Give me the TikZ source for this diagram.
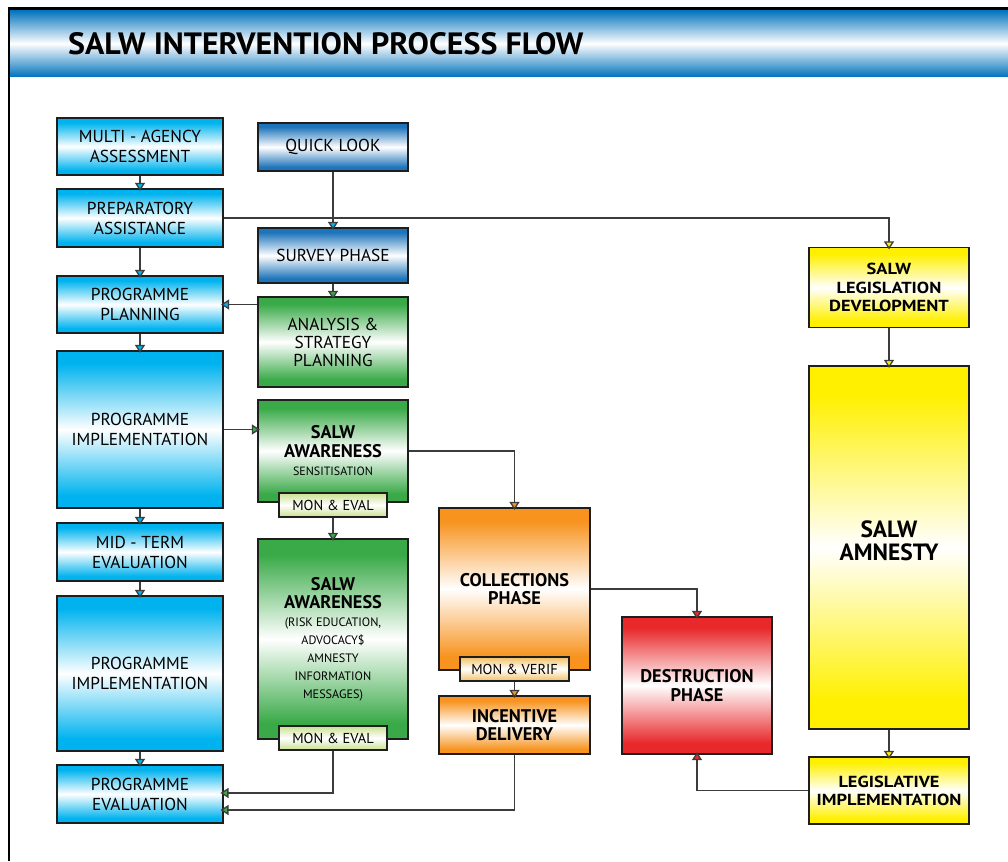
\documentclass[tikz,border=0pt]{standalone}
\usepackage{fontspec}
\setmainfont{PT Sans}
\newfontfamily\widefont[FakeStretch=1.15]{PT Sans}
\usetikzlibrary{arrows.meta,calc}
\definecolor{cyanC}{HTML}{00B3EE}
\definecolor{blueC}{HTML}{1E74BA}
\definecolor{greenC}{HTML}{3AAA48}
\definecolor{orangeC}{HTML}{F7931E}
\definecolor{redC}{HTML}{E8282B}
\definecolor{yellowC}{HTML}{FFF000}
\definecolor{limeC}{HTML}{C8E08E}
\definecolor{peachC}{HTML}{F2C064}
\definecolor{hdrC}{HTML}{0071BC}
\definecolor{lineC}{HTML}{3C3C3C}
\definecolor{edgeC}{HTML}{1E1E1E}
\newcommand\mkvshade[2]{\pgfdeclareverticalshading{#1}{100bp}{color(0bp)=(#2); color(29bp)=(#2); color(50bp)=(white); color(71bp)=(#2); color(100bp)=(#2)}}
\newcommand\mklinshade[2]{\pgfdeclareverticalshading{#1}{100bp}{color(0bp)=(#2); color(25bp)=(#2); color(50bp)=(white); color(75bp)=(#2); color(100bp)=(#2)}}
\mkvshade{cyanS}{cyanC}
\mkvshade{blueS}{blueC}
\mkvshade{greenS}{greenC}
\mkvshade{orangeS}{orangeC}
\mkvshade{redS}{redC}
\mkvshade{yellowS}{yellowC}
\mklinshade{limeS}{limeC}
\mklinshade{peachS}{peachC}
\mklinshade{hdrS}{hdrC}
\newcommand\smalltxt{\mdseries\fontsize{12.2}{18}\selectfont}
\tikzset{
  box/.style={draw=edgeC, line width=1.2pt, inner sep=2pt, align=center, text=black, shade, shading=#1, font=\fontsize{17.3}{20}\selectfont},
  boldbox/.style={box=#1, font=\fontsize{18.3}{18.5}\selectfont\bfseries},
  tag/.style={box=#1, minimum height=24pt, font=\fontsize{14.4}{16}\selectfont},
  flow/.style={draw=lineC, line width=1.3pt, shorten >=-2.5pt, -{Triangle[length=8pt,width=10pt,fill=#1]}},
}
\begin{document}
\begin{tikzpicture}[x=1pt,y=-1pt]
\useasboundingbox (0,0) rectangle (1008,861);
\fill[white] (0,0) rectangle (1008,861);
% header
\shade[shading=hdrS] (10,10) rectangle (1008,77);
\draw[line width=2.5pt] (9,861) -- (9,8.5) -- (1008,8.5);
\node[anchor=base west, inner sep=0pt] (title) at (68,55) {\resizebox{515pt}{22pt}{\bfseries SALW INTERVENTION PROCESS FLOW}};
% left column
\node[box=cyanS, minimum width=166pt, minimum height=57pt] (ma) at (140,146.5) {MULTI - AGENCY\\ASSESSMENT};
\node[box=cyanS, minimum width=166pt, minimum height=58pt] (pa) at (140,218) {PREPARATORY\\ASSISTANCE};
\node[box=cyanS, minimum width=166pt, minimum height=57pt] (pp) at (140,304.5) {PROGRAMME\\PLANNING};
\node[box=cyanS, minimum width=166pt, minimum height=157pt] (pi1) at (140,429.5) {PROGRAMME\\IMPLEMENTATION};
\node[box=cyanS, minimum width=166pt, minimum height=58pt] (mt) at (140,552) {MID - TERM\\EVALUATION};
\node[box=cyanS, minimum width=166pt, minimum height=155pt] (pi2) at (140,673.5) {PROGRAMME\\IMPLEMENTATION};
\node[box=cyanS, minimum width=166pt, minimum height=58pt] (pe) at (140,794) {PROGRAMME\\EVALUATION};
% second column
\node[box=blueS, minimum width=150pt, minimum height=48pt] (ql) at (333,147) {QUICK LOOK};
\node[box=blueS, minimum width=150pt, minimum height=55pt] (sp) at (333,255.5) {SURVEY PHASE};
\node[box=greenS, minimum width=150pt, minimum height=90pt, font=\fontsize{17.3}{18}\selectfont] (as) at (333,342) {ANALYSIS \&\\STRATEGY\\PLANNING};
\node[boldbox=greenS, minimum width=150pt, minimum height=102pt] (aw1) at (333,451) {SALW\\AWARENESS\\{\mdseries\fontsize{12}{14}\selectfont SENSITISATION}};
\node[boldbox=greenS, minimum width=150pt, minimum height=200pt, font=\fontsize{18.3}{18}\selectfont\bfseries] (aw2) at (333,639) {SALW\\AWARENESS\\{\smalltxt (RISK EDUCATION,}\\{\smalltxt ADVOCACY\$}\\{\smalltxt AMNESTY}\\{\smalltxt INFORMATION}\\{\smalltxt MESSAGES)}};
\node[tag=limeS, minimum width=108pt] (me1) at (333,505) {MON \& EVAL};
\node[tag=limeS, minimum width=108pt] (me2) at (333,738) {MON \& EVAL};
% third column
\node[boldbox=orangeS, minimum width=151pt, minimum height=162pt] (co) at (514.5,589) {COLLECTIONS\\PHASE};
\node[tag=peachS, minimum width=109pt] (mv) at (514.5,669) {MON \& VERIF};
\node[boldbox=orangeS, minimum width=151pt, minimum height=58pt] (inc) at (514.5,725) {INCENTIVE\\DELIVERY};
\node[boldbox=redS, minimum width=150pt, minimum height=137pt] (de) at (697,685.5) {DESTRUCTION\\PHASE};
% right column
\node[boldbox=yellowS, minimum width=160pt, minimum height=80pt, font=\widefont\fontsize{16}{18.5}\selectfont\bfseries, text depth=-9pt] (ld) at (889,287.5) {SALW\\LEGISLATION\\DEVELOPMENT};
\node[boldbox=yellowS, minimum width=160pt, minimum height=363pt, font=\fontsize{23.5}{22.5}\selectfont\bfseries, text depth=14pt] (am) at (889,547.5) {SALW\\AMNESTY};
\node[boldbox=yellowS, minimum width=160pt, minimum height=67pt, font=\widefont\fontsize{16}{18}\selectfont\bfseries] (li) at (889,790.5) {LEGISLATIVE\\IMPLEMENTATION};
% coordinates
\coordinate (pe1) at (223,793);
\coordinate (pe2) at (223,810);
% connectors
\draw[flow=cyanC] (ma) -- (pa);
\draw[flow=cyanC] (pa) -- (pp);
\draw[flow=cyanC] (pp) -- (pi1);
\draw[flow=cyanC] (pi1) -- (mt);
\draw[flow=cyanC] (mt) -- (pi2);
\draw[flow=cyanC] (pi2) -- (pe);
\draw[flow=cyanC] (ql) -- (sp);
\draw[flow=yellowC] (pa.east) -| (ld.north);
\draw[flow=greenC] (sp) -- (as);
\draw[flow=cyanC] (as.west |- pp.east) -- (pp.east);
\draw[flow=greenC] (pi1.east) -- (aw1.west |- pi1.east);
\draw[flow=orangeC] (aw1.east) -| (co.north);
\draw[flow=greenC] (me1) -- (aw2);
\draw[flow=greenC] (me2.south) |- (pe1);
\draw[flow=greenC] (inc.south) |- (pe2);
\draw[flow=redC] (co.east) -| (de.north);
\draw[flow=orangeC] (mv) -- (inc);
\draw[flow=yellowC] (ld) -- (am);
\draw[flow=yellowC] (am) -- (li);
\draw[flow=redC] (li.west) -| (de.south);
\end{tikzpicture}
\end{document}
